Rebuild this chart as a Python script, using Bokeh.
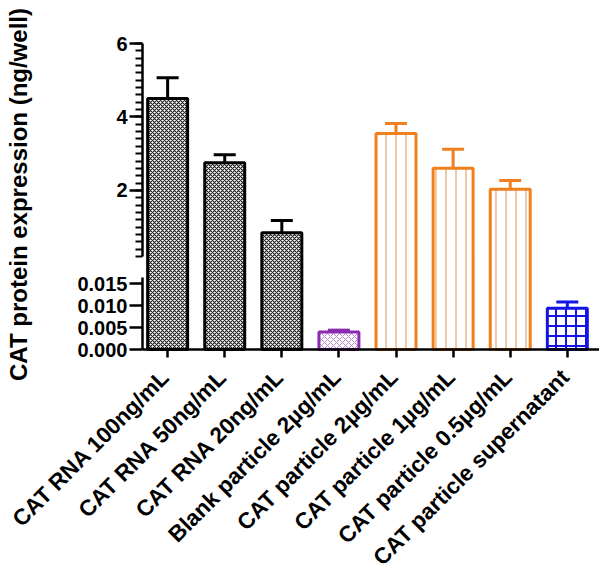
from math import pi
import numpy as np
from bokeh.plotting import figure
from bokeh.models import (ColumnDataSource, Range1d, FixedTicker, NumeralTickFormatter, Label,
                          CDSView, BooleanFilter, LinearAxis)
from bokeh.embed import file_html
from bokeh.resources import INLINE

# ---------------- data ----------------
categories = ["CAT RNA 100ng/mL", "CAT RNA 50ng/mL", "CAT RNA 20ng/mL",
              "Blank particle 2µg/mL", "CAT particle 2µg/mL", "CAT particle 1µg/mL",
              "CAT particle 0.5µg/mL", "CAT particle supernatant"]
means = [4.50, 2.75, 0.85, 0.0040, 3.55, 2.60, 2.03, 0.0094]
sems = [0.57, 0.22, 0.33, 0.0004, 0.27, 0.52, 0.24, 0.0014]
upper_ticks = [2, 4, 6]
lower_ticks = [0.000, 0.005, 0.010, 0.015]
y_title = "CAT protein expression (ng/well)"

# ---------------- styles ----------------
line_colors = ["black", "black", "black", "#8a2bb0", "#f0801e", "#f0801e", "#f0801e", "#1414e6"]
hatch_patterns = ["x", "x", "x", "x", "vertical_line", "vertical_line", "vertical_line", "cross"]
hatch_colors = ["#222222", "#222222", "#222222", "#b98bd6", "#e9b88e", "#e9b88e", "#e9b88e", "#1414e6"]
hatch_scales = [4, 4, 4, 6, 10, 10, 10, 10]
hatch_weights = [1.2, 1.2, 1.2, 1.0, 1.5, 1.5, 1.5, 2.0]

FONT = "Liberation Sans"

# ---------------- layout (pixels; the frame fills the whole canvas) ----------------
W, H = 599, 574
AXIS_X = 142        # where both y axis lines are drawn
UP_TOP = 43         # y of 6
UP_BOTTOM = 256     # y of upper segment start (0.2)
AX_Y = 349          # x axis line
LOW_015 = 283       # y of 0.015
TITLE_X, TITLE_Y = 18, 194
UP_START, UP_END = 0.2, 6.0
LOW_BOUND = 0.0163
LABEL_SHIFT_PX = 2

xs = list(range(len(categories)))
err_top = [m + s for m, s in zip(means, sems)]
px_per_cat = 57.1
x_axis_start = -0.44
x_start = x_axis_start - AXIS_X / px_per_cat
x_end = x_start + W / px_per_cat

low_ppu = (AX_Y - LOW_015) / 0.015
up_ppu = (UP_BOTTOM - UP_TOP) / (UP_END - UP_START)
up_at_axis = UP_START - (AX_Y - UP_BOTTOM) / up_ppu   # upper-scale value at the x axis line

src = ColumnDataSource(dict(x=xs, top=means, err_top=err_top, lc=line_colors,
                            hp=hatch_patterns, hc=hatch_colors, hs=hatch_scales,
                            hw=hatch_weights))
big = CDSView(filter=BooleanFilter([m > UP_START for m in means]))
small = CDSView(filter=BooleanFilter([m <= UP_START for m in means]))

p = figure(frame_width=W, frame_height=H,
           x_range=Range1d(x_start, x_end),
           y_range=Range1d(-(H - AX_Y) / low_ppu, AX_Y / low_ppu),
           output_backend="svg", toolbar_location=None,
           x_axis_location=None, y_axis_location=None, min_border=0)
p.extra_y_ranges = {"upper": Range1d(UP_START - (H - UP_BOTTOM) / up_ppu,
                                     UP_END + UP_TOP / up_ppu)}
p.extra_x_ranges = {"lab": Range1d(x_start + LABEL_SHIFT_PX / px_per_cat,
                                   x_end + LABEL_SHIFT_PX / px_per_cat)}
p.outline_line_color = None
p.xgrid.grid_line_color = None
p.ygrid.grid_line_color = None


def draw(view, y_range_name, bottom):
    kw = dict(source=src, view=view, y_range_name=y_range_name)
    p.segment(x0="x", y0="top", x1="x", y1="err_top", line_color="lc", line_width=3, **kw)
    p.scatter(x="x", y="err_top", marker="dash", size=22, line_color="lc", line_width=3, **kw)
    p.vbar(x="x", width=0.7, bottom=bottom, top="top", fill_color="white", line_color="lc",
           line_width=3, hatch_pattern="hp", hatch_color="hc", hatch_scale="hs",
           hatch_weight="hw", **kw)


draw(big, "upper", up_at_axis)
draw(small, "default", 0)


def style_yaxis(a):
    a.axis_line_width = 2.5
    a.major_tick_line_width = 2.5
    a.minor_tick_line_width = 2
    a.major_tick_out = 13
    a.major_tick_in = 0
    a.minor_tick_out = 7
    a.minor_tick_in = 0
    a.major_label_standoff = 2
    a.major_label_text_font = FONT
    a.major_label_text_font_style = "bold"
    a.major_label_text_font_size = "20px"
    a.major_label_text_color = "black"


# lower segment y axis
yl = LinearAxis(fixed_location=x_axis_start,
                ticker=FixedTicker(ticks=lower_ticks, minor_ticks=[]),
                formatter=NumeralTickFormatter(format="0.000"),
                bounds=(0, LOW_BOUND))
style_yaxis(yl)
yl.minor_tick_line_color = None
p.add_layout(yl, "left")

# upper segment y axis
yu = LinearAxis(y_range_name="upper", fixed_location=x_axis_start,
                ticker=FixedTicker(ticks=upper_ticks,
                                   minor_ticks=np.round(np.arange(UP_START, UP_END + 0.01, 0.2), 2).tolist()),
                bounds=(UP_START, UP_END))
style_yaxis(yu)
p.add_layout(yu, "left")

# x axis line and ticks
xa = LinearAxis(fixed_location=0, bounds=(x_axis_start, x_end),
                ticker=FixedTicker(ticks=xs, minor_ticks=[]),
                major_label_overrides={i: "" for i in xs})
xa.axis_line_width = 2.5
xa.major_tick_line_width = 2.5
xa.major_tick_out = 8
xa.major_tick_in = 0
xa.minor_tick_line_color = None
xa.major_label_text_font_size = "0px"
p.add_layout(xa, "below")

# category labels
xl = LinearAxis(fixed_location=0, x_range_name="lab",
                ticker=FixedTicker(ticks=xs, minor_ticks=[]),
                major_label_overrides={i: c for i, c in zip(xs, categories)})
xl.axis_line_color = None
xl.major_tick_line_color = None
xl.minor_tick_line_color = None
xl.major_tick_out = 0
xl.major_tick_in = 0
xl.major_label_orientation = pi / 4
xl.major_label_standoff = 24
xl.major_label_text_font = FONT
xl.major_label_text_font_style = "bold"
xl.major_label_text_font_size = "22.5px"
xl.major_label_text_color = "black"
p.add_layout(xl, "below")

# y title
p.add_layout(Label(x=x_start + TITLE_X / px_per_cat, y=(AX_Y - TITLE_Y) / low_ppu,
                   text=y_title, angle=pi / 2, text_align="center", text_baseline="middle",
                   text_font=FONT, text_font_style="bold", text_font_size="24px",
                   text_color="black"))

open("out.html", "w").write(file_html(p, INLINE))
